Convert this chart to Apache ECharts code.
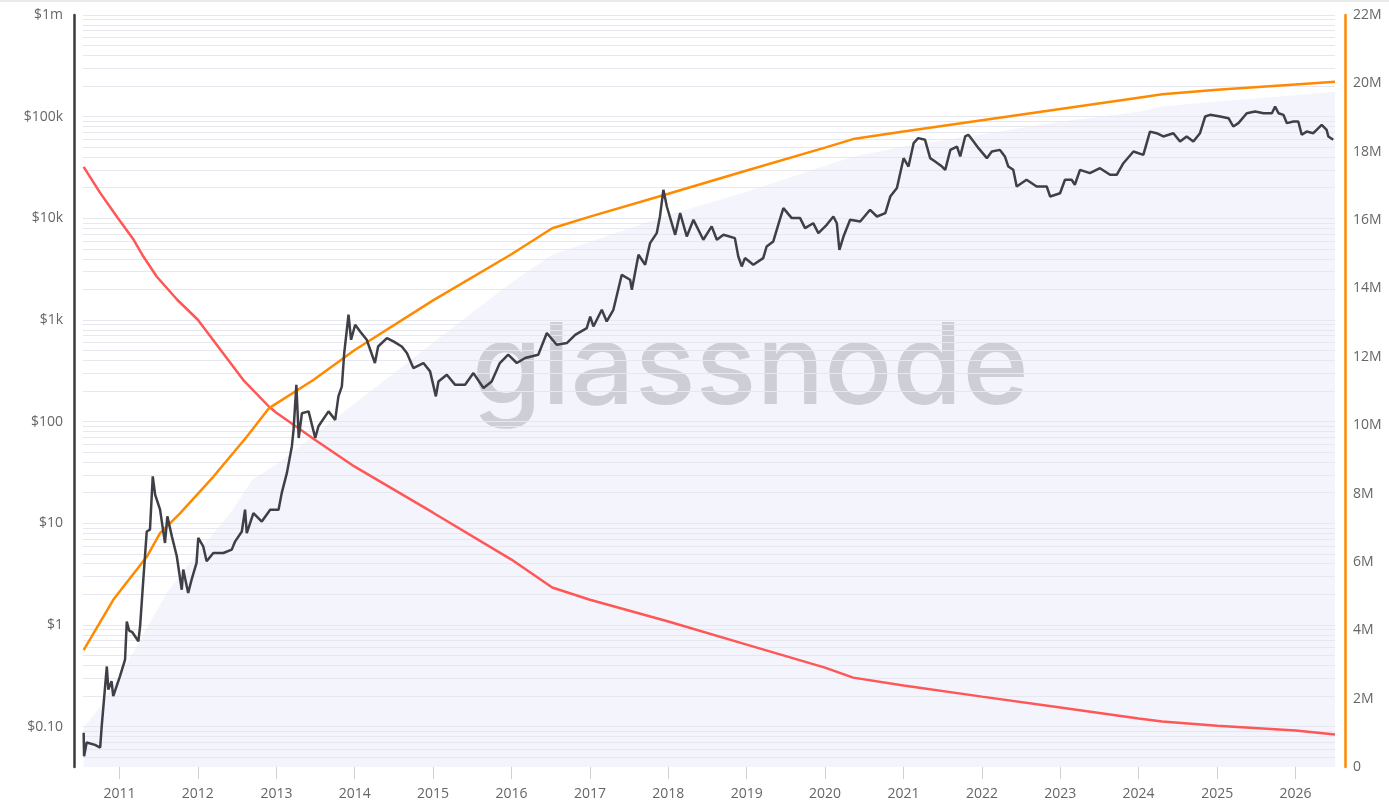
<!DOCTYPE html>
<html>
<head>
<meta charset="utf-8">
<script src="https://cdn.jsdelivr.net/npm/echarts@6/dist/echarts.min.js"></script>
<style>
html,body{margin:0;padding:0;background:#fff;}
#chart{width:1389px;height:810px;}
</style>
</head>
<body>
<div id="chart"></div>
<script>
// ---- Data ----
var priceData = [
['2010-07-18',0.087],['2010-07-20',0.051],['2010-08-01',0.0697],['2010-09-09',0.066],['2010-10-03',0.0622],
['2010-10-10',0.1],['2010-11-03',0.39],['2010-11-10',0.231],['2010-11-25',0.279],['2010-12-03',0.199],
['2011-01-03',0.312],['2011-01-27',0.456],['2011-02-04',1.08],['2011-02-15',0.88],['2011-03-01',0.85],
['2011-03-30',0.69],['2011-04-07',0.97],['2011-04-22',2.79],['2011-05-08',8.3],['2011-05-23',8.65],
['2011-06-05',28.9],['2011-06-16',19.1],['2011-07-09',13.6],['2011-08-01',6.4],['2011-08-12',11.7],
['2011-09-02',7.43],['2011-09-25',4.73],['2011-10-18',2.22],['2011-10-25',3.5],['2011-11-17',2.06],
['2011-12-03',2.79],['2011-12-26',4.07],['2012-01-03',7.17],['2012-01-26',5.93],['2012-02-11',4.22],
['2012-03-13',5.1],['2012-04-29',5.1],['2012-06-07',5.5],['2012-06-23',6.64],['2012-07-24',8.3],
['2012-08-08',13.6],['2012-08-16',8.0],['2012-09-16',12.6],['2012-10-25',10.4],['2012-12-03',13.6],
['2013-01-11',13.6],['2013-01-26',19.9],['2013-02-19',31.3],['2013-03-14',57],['2013-03-22',83],
['2013-04-04',230],['2013-04-15',69],['2013-04-30',121],['2013-05-31',126],['2013-07-01',69],
['2013-07-16',90],['2013-09-01',126],['2013-10-02',104],['2013-10-17',177],['2013-11-02',222],
['2013-11-13',472],['2013-12-03',1125],['2013-12-15',638],['2014-01-03',897],['2014-01-26',771],
['2014-02-26',638],['2014-04-05',377],['2014-04-20',548],['2014-05-31',664],['2014-06-30',615],
['2014-08-08',548],['2014-09-01',472],['2014-10-01',336],['2014-11-17',377],['2014-12-18',312],
['2015-01-14',177],['2015-01-26',248],['2015-03-06',289],['2015-04-14',230],['2015-05-30',230],
['2015-07-08',300],['2015-08-24',214],['2015-10-01',248],['2015-11-08',377],['2015-12-17',455],
['2016-01-26',377],['2016-03-05',422],['2016-05-05',455],['2016-06-14',743],['2016-07-30',570],
['2016-09-15',593],['2016-10-24',714],['2016-12-17',832],['2017-01-02',1081],['2017-01-17',863],
['2017-02-25',1259],['2017-03-20',966],['2017-04-20',1259],['2017-05-29',2780],['2017-07-07',2483],
['2017-07-15',1980],['2017-08-15',4375],['2017-09-15',3490],['2017-10-08',5700],['2017-11-08',7145],
['2017-11-23',10420],['2017-12-09',19050],['2017-12-25',13060],['2018-02-02',6880],['2018-02-25',11250],
['2018-03-28',6620],['2018-04-28',9660],['2018-06-13',6150],['2018-07-22',8320],['2018-08-15',6150],
['2018-09-15',6880],['2018-11-07',6380],['2018-11-23',4210],['2018-12-09',3360],['2018-12-24',4060],
['2019-02-01',3490],['2019-03-19',4060],['2019-04-04',5280],['2019-05-05',5920],['2019-05-28',8630],
['2019-06-21',12590],['2019-07-30',10050],['2019-09-07',10050],['2019-09-30',8000],['2019-11-07',8950],
['2019-12-01',7145],['2020-01-09',8630],['2020-02-09',10420],['2020-02-25',8950],['2020-03-08',4900],
['2020-03-27',6620],['2020-04-27',9660],['2020-06-13',9290],['2020-07-29',12130],['2020-08-30',10420],
['2020-10-08',11250],['2020-10-31',16370],['2020-12-01',19820],['2021-01-01',39060],['2021-01-24',32280],
['2021-02-17',54950],['2021-03-10',61520],['2021-04-11',59160],['2021-05-05',39060],['2021-05-28',36220],
['2021-06-29',32280],['2021-07-14',29990],['2021-08-07',47100],['2021-09-07',50820],['2021-09-22',40640],
['2021-10-15',63830],['2021-10-30',66370],['2021-11-23',57020],['2021-12-16',48980],['2022-01-24',39060],
['2022-02-16',45400],['2022-03-26',47100],['2022-04-18',40640],['2022-05-04',32280],['2022-05-27',29990],
['2022-06-12',20560],['2022-07-28',23930],['2022-09-13',20560],['2022-10-30',20560],['2022-11-15',16370],
['2022-12-31',17660],['2023-01-23',23930],['2023-02-23',23930],['2023-03-10',21380],['2023-04-03',29990],
['2023-05-19',27800],['2023-07-05',31100],['2023-08-21',26790],['2023-09-21',26790],['2023-10-22',34830],
['2023-12-08',45400],['2024-01-23',42070],['2024-02-23',71290],['2024-03-25',68680],['2024-04-25',63830],
['2024-06-11',68680],['2024-07-12',57020],['2024-08-12',63830],['2024-09-12',57020],['2024-10-13',68680],
['2024-11-06',100250],['2024-11-29',104200],['2025-01-15',100250],['2025-02-23',96600],['2025-03-17',80000],
['2025-04-10',86300],['2025-05-19',108100],['2025-06-27',112300],['2025-08-05',108100],['2025-09-13',108100],
['2025-09-28',125700],['2025-10-14',108100],['2025-11-06',104000],['2025-11-22',86300],['2025-12-22',89500],
['2026-01-14',89500],['2026-01-30',66400],['2026-02-22',71300],['2026-03-25',68700],['2026-05-03',83000],
['2026-05-26',74100],['2026-06-03',63800],['2026-06-26',59200]
];

var supplyData = [
['2010-07-18',3.42e6],['2010-12-03',4.89e6],['2011-05-08',6.15e6],['2011-07-09',6.84e6],['2011-10-10',7.42e6],
['2012-03-13',8.49e6],['2012-08-16',9.66e6],['2012-11-28',10.5e6],['2013-06-22',11.32e6],['2014-01-01',12.2e6],
['2015-01-01',13.65e6],['2016-01-01',15.0e6],['2016-07-09',15.76e6],['2017-01-01',16.1e6],['2018-01-01',16.77e6],
['2019-01-01',17.45e6],['2020-01-01',18.12e6],['2020-05-11',18.37e6],['2021-01-01',18.59e6],['2022-01-01',18.92e6],
['2023-01-01',19.25e6],['2024-01-01',19.58e6],['2024-04-20',19.68e6],['2025-01-01',19.81e6],['2026-01-01',19.97e6],
['2026-07-04',20.05e6]
];

var inflationData = [
['2010-07-18',32000],['2010-10-03',17800],['2010-12-20',10350],['2011-03-08',6150],['2011-04-23',4180],
['2011-06-24',2660],['2011-09-27',1580],['2012-01-01',1005],['2012-07-30',258],['2012-11-28',140],
['2013-01-01',122],['2013-07-01',66],['2014-01-01',36],['2015-01-01',12.7],['2016-01-01',4.39],
['2016-07-09',2.33],['2017-01-01',1.77],['2018-01-01',1.08],['2019-01-01',0.64],['2020-01-01',0.38],
['2020-05-11',0.303],['2021-01-01',0.253],['2022-01-01',0.197],['2023-01-01',0.154],['2024-01-01',0.120],
['2024-04-20',0.112],['2025-01-01',0.102],['2026-01-01',0.0914],['2026-07-04',0.0834]
];

var bandData = [
['2010-07-18',0.098],['2010-10-03',0.157],['2011-03-06',0.535],['2011-08-10',2.08],['2012-01-10',5.5],
['2012-06-12',13.6],['2012-09-10',26.8],['2013-01-01',37.7],['2014-01-01',151],['2015-01-01',597],
['2016-01-01',2340],['2016-07-09',4375],['2018-01-01',10800],['2019-01-01',18200],['2020-01-01',32900],
['2020-05-11',40300],['2021-01-01',51000],['2022-01-01',67000],['2023-01-01',89000],['2024-01-01',112000],
['2024-04-20',126000],['2025-01-01',141000],['2026-01-01',162000],['2026-07-04',176000]
];

var leftTickValues = [0.1, 1, 10, 100, 1000, 10000, 100000, 1000000];
var leftTickLabels = ['$0.10', '$1', '$10', '$100', '$1k', '$10k', '$100k', '$1m'];
var gridDecades = [0.01, 0.1, 1, 10, 100, 1000, 10000, 100000];
var gridMultipliers = [1, 2, 3, 4, 5, 6, 7, 8, 9];
var rightTickLabelsM = ['0','2M','4M','6M','8M','10M','12M','14M','16M','18M','20M','22M'];

// ---- Build gridline positions (log grid) ----
var yMin = 0.04, yMax = 1e6;
var gridValues = [];
gridDecades.forEach(function (d) {
  gridMultipliers.forEach(function (m) {
    var v = +(d * m).toPrecision(6);
    if (v > yMin && v <= yMax) gridValues.push(v);
  });
});
gridValues.push(1e6);

var chart = echarts.init(document.getElementById('chart'));
var FONT = 'Open Sans';
var option = {
  animation: false,
  textStyle: { fontFamily: FONT },
  grid: { left: 83, right: 54, top: 15, bottom: 43 },
  graphic: [
    { type: 'line', shape: { x1: 0, y1: 1, x2: 1389, y2: 1 }, style: { stroke: '#e3e3e3', lineWidth: 1.5 }, z: 10, silent: true },
    { type: 'text', left: 472, top: 314, z: 1.3, silent: true,
      style: { text: 'glassnode', fill: 'rgba(165,165,172,0.48)', font: '500 113px Inter' } }
  ],
  xAxis: {
    type: 'time',
    min: '2010-07-15',
    max: '2026-07-04',
    minInterval: 365 * 86400000,
    maxInterval: 366 * 86400000,
    axisLine: { show: false },
    axisTick: { show: true, length: 12, lineStyle: { color: '#cfcfd6' } },
    splitLine: { show: false },
    axisLabel: {
      color: '#666', fontSize: 14, margin: 20, fontFamily: FONT,
      showMinLabel: false, showMaxLabel: false,
      formatter: function (v) { return String(new Date(v).getFullYear()); }
    }
  },
  yAxis: [
    {
      type: 'log', logBase: 10, min: yMin, max: yMax, position: 'left', offset: 9,
      axisLine: { show: true, lineStyle: { color: '#3a3a3e', width: 2.5 } },
      axisTick: { show: false },
      splitLine: { show: false },
      axisLabel: {
        color: '#666', fontSize: 14, margin: 11, fontFamily: FONT,
        customValues: leftTickValues,
        formatter: function (v) {
          for (var i = 0; i < leftTickValues.length; i++) {
            if (Math.abs(v / leftTickValues[i] - 1) < 1e-6) return leftTickLabels[i];
          }
          return '';
        }
      }
    },
    {
      type: 'value', min: 0, max: 22e6, interval: 2e6, position: 'right', offset: 10,
      axisLine: { show: true, lineStyle: { color: '#ff8a00', width: 2.5 } },
      axisTick: { show: false },
      splitLine: { show: false },
      axisLabel: {
        color: '#666', fontSize: 14, margin: 8, fontFamily: FONT,
        formatter: function (v) { return rightTickLabelsM[Math.round(v / 2e6)]; }
      }
    }
  ],
  series: [
    {
      name: 'band', type: 'line', yAxisIndex: 0, data: bandData, showSymbol: false, silent: true,
      lineStyle: { width: 0 }, areaStyle: { color: '#f4f4fd', origin: 'start', opacity: 1 }, z: 1,
      markLine: {
        silent: true, symbol: ['none', 'none'], z: 1.4, animation: false,
        label: { show: false },
        lineStyle: { color: '#e6e7ef', width: 1, type: 'solid' },
        data: gridValues.map(function (v) { return { yAxis: v }; })
      }
    },
    {
      name: 'inflation', type: 'line', yAxisIndex: 0, data: inflationData, showSymbol: false, silent: true,
      lineStyle: { color: '#ff5656', width: 2.5 }, z: 3
    },
    {
      name: 'supply', type: 'line', yAxisIndex: 1, data: supplyData, showSymbol: false, silent: true,
      lineStyle: { color: '#ff8a00', width: 2.5 }, z: 4
    },
    {
      name: 'price', type: 'line', yAxisIndex: 0, data: priceData, showSymbol: false, silent: true,
      lineStyle: { color: '#3f3f47', width: 2.5 }, z: 5
    }
  ]
};
chart.setOption(option);
</script>
</body>
</html>
